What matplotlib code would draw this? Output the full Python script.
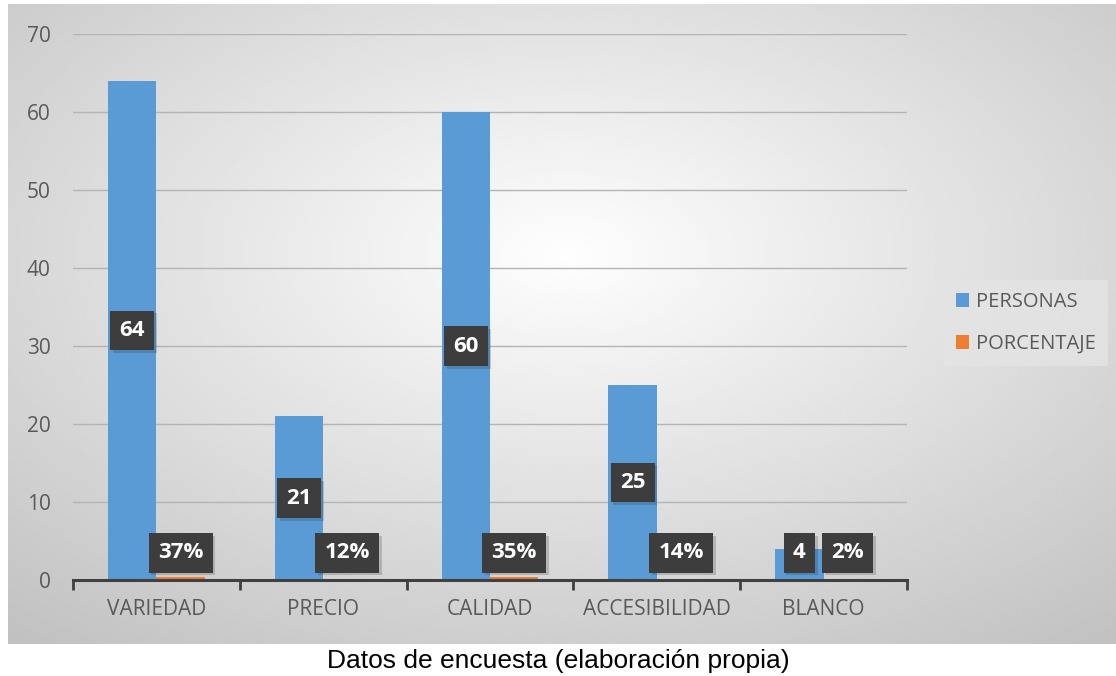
import numpy as np
import matplotlib
matplotlib.use("Agg")
import matplotlib.pyplot as plt
import matplotlib.patheffects as pe

# Data
categories = ["VARIEDAD", "PRECIO", "CALIDAD", "ACCESIBILIDAD", "BLANCO"]
personas = [64, 21, 60, 25, 4]
porcentaje = [0.37, 0.12, 0.35, 0.14, 0.02]
yticks = [0, 10, 20, 30, 40, 50, 60, 70]

W, H = 1116, 676
fig = plt.figure(figsize=(W / 100, H / 100), dpi=100)
plt.rcParams['font.family'] = ['Open Sans', 'DejaVu Sans']

# radial gradient background of the chart frame
bg = fig.add_axes([8 / W, (H - 644) / H, 1108 / W, 640 / H])
gx, gy = np.meshgrid(np.linspace(0, 1108, 400), np.linspace(0, 640, 240))
r = np.sqrt(((gx - 560) / 1108) ** 2 + ((gy - 250) / 640) ** 2)
shade = np.clip(254 - 78 * r, 190, 255) / 255
bg.imshow(shade, cmap='gray', vmin=0, vmax=1, aspect='auto', interpolation='bilinear')
bg.axis('off')

ax = fig.add_axes([73 / W, (H - 580) / H, 834 / W, 546 / H])
ax.patch.set_alpha(0)

x = np.arange(len(categories))
bw = 0.29
blue = '#5B9BD5'
orange = '#ED7D31'
b1 = ax.bar(x - bw / 2, personas, bw, color=blue, label='PERSONAS', zorder=3)
b2 = ax.bar(x + bw / 2, porcentaje, bw, color=orange, label='PORCENTAJE', zorder=3)

ax.set_xlim(-0.5, len(categories) - 0.5)
ax.set_ylim(0, 70)
ax.set_yticks(yticks)
ax.set_xticks(x)
ax.set_xticklabels(categories)
ax.set_xticks(np.arange(-0.5, len(categories)), minor=True)
ax.tick_params(axis='x', which='major', length=0, pad=14, labelsize=15, labelcolor='#595959')
ax.tick_params(axis='x', which='minor', length=7, width=2, color='#404040', direction='out')
ax.tick_params(axis='y', length=0, pad=16, labelsize=15, labelcolor='#595959')
ax.grid(axis='y', color='#b4b4b4', linewidth=1, zorder=0)
ax.set_axisbelow(True)
for s in ['top', 'right', 'left']:
    ax.spines[s].set_visible(False)
ax.spines['bottom'].set_color('#404040')
ax.spines['bottom'].set_linewidth(2.2)
ax.spines['bottom'].set_zorder(4)


def add_label(xpos, val, txt):
    t = ax.text(xpos, max(val / 2, 3.5), txt, ha='center', va='center', color='white',
                fontsize=16, fontweight='bold', zorder=6,
                bbox=dict(boxstyle='square,pad=0.42', fc='#3d3d3d', ec='none'))
    t.get_bbox_patch().set_path_effects([pe.SimplePatchShadow(offset=(2, -2), alpha=0.18), pe.Normal()])


for xi, v in zip(x, personas):
    add_label(xi - bw / 2, v, f"{v}")
for xi, v in zip(x, porcentaje):
    add_label(xi + bw / 2, 0, f"{round(v * 100)}%")

leg = fig.legend(handles=[b1, b2], loc='center left', bbox_to_anchor=(934 / W, (H - 323) / H),
                 frameon=True, fontsize=14.5, handlelength=0.65, handleheight=0.65,
                 handletextpad=0.35, labelspacing=1.1, borderpad=0.6, fancybox=False)
leg.get_frame().set_facecolor('#e4e4e4')
leg.get_frame().set_edgecolor('none')
for t in leg.get_texts():
    t.set_color('#595959')

fig.text(0.5, (H - 661) / H, "Datos de encuesta (elaboración propia)", ha='center', va='center',
         fontsize=19, family='Liberation Sans', color='black')

fig.savefig("out.png", dpi=100)
